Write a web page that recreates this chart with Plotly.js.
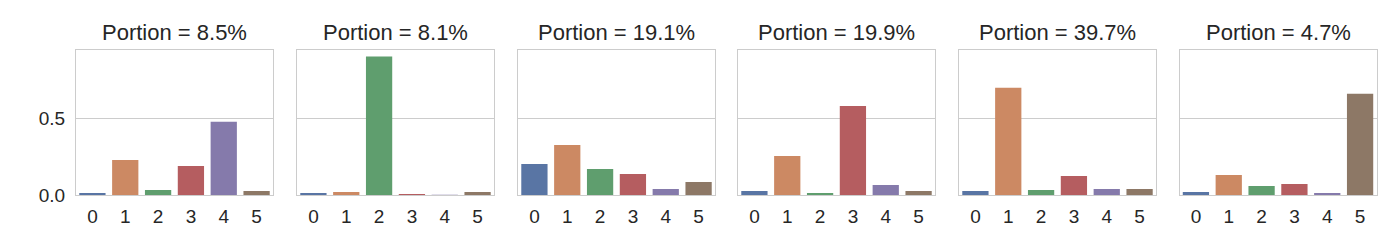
<!DOCTYPE html>
<html>
<head>
<meta charset="utf-8">
<script src="https://cdn.plot.ly/plotly-3.0.1.min.js"></script>
<style>html,body{margin:0;padding:0;background:#fff;}#chart{width:1400px;height:250px;}</style>
</head>
<body>
<div id="chart"></div>
<script>
const categories = ['0', '1', '2', '3', '4', '5'];
const panelTitles = ['Portion = 8.5%', 'Portion = 8.1%', 'Portion = 19.1%', 'Portion = 19.9%', 'Portion = 39.7%', 'Portion = 4.7%'];
const panel1 = [0.013, 0.228, 0.033, 0.189, 0.476, 0.026];
const panel2 = [0.013, 0.020, 0.902, 0.007, 0.001, 0.020];
const panel3 = [0.202, 0.326, 0.170, 0.137, 0.039, 0.085];
const panel4 = [0.026, 0.254, 0.013, 0.580, 0.065, 0.026];
const panel5 = [0.026, 0.698, 0.033, 0.124, 0.039, 0.039];
const panel6 = [0.020, 0.130, 0.059, 0.072, 0.013, 0.659];
const barColors = ['#5975a4', '#cc8963', '#5f9e6e', '#b55d60', '#857aab', '#8d7866'];

const panels = [panel1, panel2, panel3, panel4, panel5, panel6];
const W = 1400, H = 250;
const lefts = [76, 297, 518, 738, 959, 1179.5];
const pw = 197;
const plotTop = 49.5, plotBottom = 195;
const textColor = '#262626';
const fontFam = 'Liberation Sans, Arial, Helvetica, sans-serif';
const yMax = Math.max(...panels.flat()) * 1.05;

const data = [];
const layout = {
  width: W, height: H,
  margin: {l: 0, r: 0, t: 0, b: 0},
  paper_bgcolor: '#ffffff', plot_bgcolor: '#ffffff',
  showlegend: false,
  bargap: 0.2,
  font: {family: fontFam, color: textColor, size: 19},
  annotations: []
};

panels.forEach((vals, i) => {
  const n = i === 0 ? '' : String(i + 1);
  data.push({
    type: 'bar', x: categories, y: vals,
    xaxis: 'x' + n, yaxis: 'y' + n,
    marker: {color: barColors, line: {width: 0}},
    hoverinfo: 'x+y'
  });
  const x0 = lefts[i] / W, x1 = (lefts[i] + pw) / W;
  layout['xaxis' + n] = {
    domain: [x0, x1], anchor: 'y' + n,
    type: 'category', range: [-0.5, 5.5],
    showgrid: false, zeroline: false,
    showline: true, mirror: true, linecolor: '#cccccc', linewidth: 1,
    ticks: '', tickfont: {size: 19, color: textColor, family: fontFam},
    ticklabelstandoff: 4
  };
  layout['yaxis' + n] = {
    domain: [(H - plotBottom) / H, (H - plotTop) / H], anchor: 'x' + n,
    range: [0, yMax], tickvals: [0, 0.5], ticktext: ['0.0', '0.5'],
    showticklabels: i === 0,
    showgrid: true, gridcolor: '#cccccc', gridwidth: 1,
    zeroline: false,
    showline: true, mirror: true, linecolor: '#cccccc', linewidth: 1,
    ticks: '', tickfont: {size: 19, color: textColor, family: fontFam},
    ticklabelstandoff: 6
  };
  layout.annotations.push({
    text: panelTitles[i], showarrow: false,
    xref: 'paper', yref: 'paper',
    x: (x0 + x1) / 2, y: (H - 32) / H,
    xanchor: 'center', yanchor: 'middle',
    font: {size: 22, color: textColor, family: fontFam}
  });
});

Plotly.newPlot('chart', data, layout, {displayModeBar: false, staticPlot: true});
</script>
</body>
</html>
